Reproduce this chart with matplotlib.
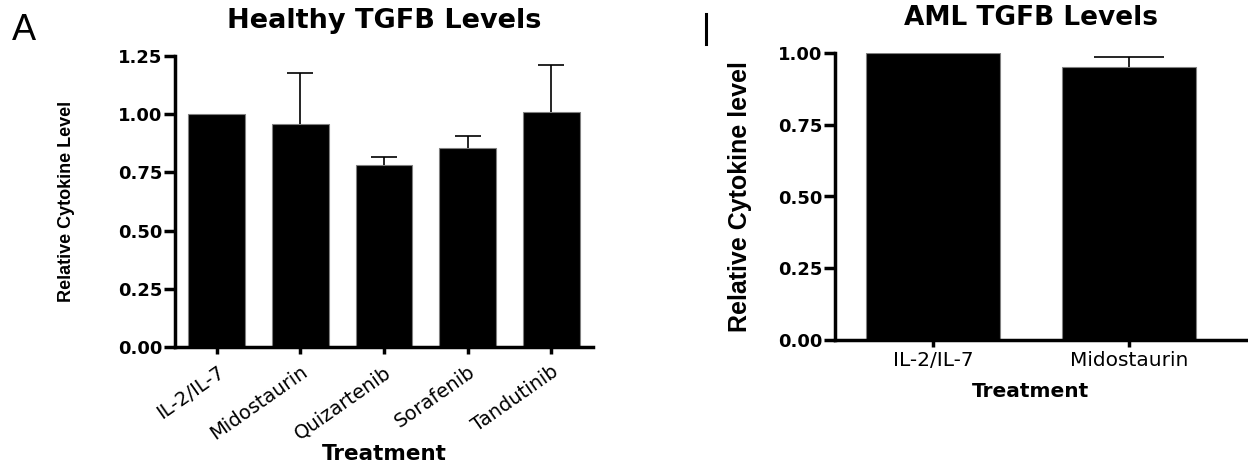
import matplotlib
matplotlib.use("Agg")
import matplotlib.pyplot as plt
import matplotlib.transforms as mtransforms
from matplotlib.lines import Line2D
import numpy as np

# ---- data ----
categories_h = ['IL-2/IL-7', 'Midostaurin', 'Quizartenib', 'Sorafenib', 'Tandutinib']
values_h = [1.00, 0.96, 0.78, 0.855, 1.01]
err_h = [0.0, 0.215, 0.035, 0.05, 0.20]
yticks_h = [0.00, 0.25, 0.50, 0.75, 1.00, 1.25]

categories_a = ['IL-2/IL-7', 'Midostaurin']
values_a = [1.00, 0.95]
err_a = [0.0, 0.035]
yticks_a = [0.00, 0.25, 0.50, 0.75, 1.00]

W, H = 1248, 465
fig = plt.figure(figsize=(W / 100, H / 100), dpi=100)

def frac(x0, x1, ytop, ybot):
    return [x0 / W, (H - ybot) / H, (x1 - x0) / W, (ybot - ytop) / H]

TICKFONT = dict(family='DejaVu Sans', weight='bold', size=13)

def style(ax, yticks, ylabel, ylab_x, ylab_size):
    for s in ['top', 'right']:
        ax.spines[s].set_visible(False)
    for s in ['left', 'bottom']:
        ax.spines[s].set_linewidth(2.5)
    ax.set_yticks(yticks)
    ax.set_yticklabels(['%.2f' % v for v in yticks], fontdict=TICKFONT)
    ax.tick_params(axis='y', length=8, width=2.5, pad=1)
    ax.tick_params(axis='x', length=5, width=2.5)
    ax.set_ylabel(ylabel, family='Liberation Sans', weight='bold', size=ylab_size)
    ax.yaxis.set_label_coords(ylab_x, 0.5)

def bars(ax, cats, vals, errs, capsize):
    x = np.arange(len(cats))
    ax.bar(x, vals, width=0.68, color='black', edgecolor='#808080', linewidth=0.8, zorder=2)
    idx = [i for i, e in enumerate(errs) if e > 0]
    cont = ax.errorbar(x[idx], np.array(vals)[idx],
                       yerr=[np.zeros(len(idx)), np.array(errs)[idx]],
                       fmt='none', ecolor='black', elinewidth=1.2, capsize=capsize,
                       capthick=1.2, zorder=3, clip_on=False)
    caplines = cont[1]
    if len(caplines) >= 2:
        caplines[0].set_visible(False)  # hide lower cap (upper-only error bars)
    return x

# ---- left panel ----
ax1 = fig.add_axes(frac(175, 593, 56, 347))
x1 = bars(ax1, categories_h, values_h, err_h, 9.7)
ax1.set_xlim(-0.5, len(categories_h) - 0.5)
ax1.set_ylim(0, 1.25)
style(ax1, yticks_h, 'Relative Cytokine Level', -(175 - 75) / 418, 13)
ax1.set_xticks(x1)
ax1.set_xticklabels(categories_h, rotation=35, ha='right', va='top',
                    rotation_mode='anchor', family='DejaVu Sans', size=14)
ax1.tick_params(axis='x', pad=6)
ax1.text(0.5, -(460 - 347) / 291, 'Treatment', transform=ax1.transAxes, ha='center',
         va='baseline', family='DejaVu Sans', weight='bold', size=15.5)
ax1.text(0.5, 1.0 + (56 - 28) / 291, 'Healthy TGFB Levels', transform=ax1.transAxes,
         ha='center', va='baseline', family='DejaVu Sans', weight='bold', size=19.5)

# ---- right panel ----
ax2 = fig.add_axes(frac(835, 1248, 53, 340))
x2 = bars(ax2, categories_a, values_a, err_a, 25)
ax2.set_xlim(-0.5, -0.5 + (1248 - 835) / 196)
ax2.set_ylim(0, 1.0)
style(ax2, yticks_a, 'Relative Cytokine level', -(835 - 752) / 413, 18)
ax2.set_xticks(x2)
ax2.set_xticklabels(categories_a, family='DejaVu Sans', size=14.5)
ax2.tick_params(axis='x', pad=3)
tr = mtransforms.blended_transform_factory(ax2.transData, ax2.transAxes)
ax2.text(0.5, 1.0 + (53 - 25) / 287, 'AML TGFB Levels', transform=tr,
         ha='center', va='baseline', family='DejaVu Sans', weight='bold', size=19)
ax2.text(0.5, -(382 - 340) / 287, 'Treatment', transform=tr, ha='center', va='top',
         family='DejaVu Sans', weight='bold', size=14.5)

# ---- panel letters ----
fig.text(12 / W, (H - 40) / H, 'A', family='Liberation Sans', size=26, ha='left', va='baseline')
fig.add_artist(Line2D([705.5 / W, 705.5 / W], [(H - 14) / H, (H - 44) / H],
                      transform=fig.transFigure, color='black', linewidth=2.2))

fig.savefig('out.png', dpi=100)
